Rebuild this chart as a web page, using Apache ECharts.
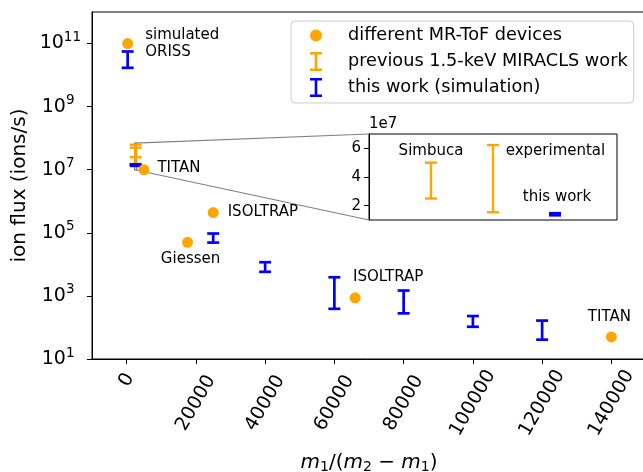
<!DOCTYPE html>
<html>
<head>
<meta charset="utf-8">
<script src="https://cdn.jsdelivr.net/npm/echarts@6/dist/echarts.min.js"></script>
<style>
html, body { margin: 0; padding: 0; background: #fff; }
#main { width: 643px; height: 472px; }
</style>
</head>
<body>
<div id="main"></div>
<script>
// orange dots: different MR-ToF devices
const deviceLabels = ['simulated\nORISS', 'TITAN', 'Giessen', 'ISOLTRAP', 'ISOLTRAP', 'TITAN'];
const deviceX = [300, 5000, 17600, 25000, 66000, 140000];
const deviceFlux = [1e11, 1e7, 5e4, 4.4e5, 870, 50];

// orange bars: previous 1.5-keV MIRACLS work (Simbuca, experimental)
const prevLabels = ['Simbuca', 'experimental'];
const prevX = [2600, 2600];
const prevLow = [2.5e7, 1.54e7];
const prevHigh = [5e7, 6.23e7];

// blue bars: this work (simulation)
const simX = [300, 2600, 25000, 40000, 60000, 80000, 100000, 120000];
const simLow = [1.7e10, 1.33e7, 4.9e4, 5.8e3, 390, 280, 105, 41];
const simHigh = [5.6e10, 1.47e7, 9.5e4, 1.17e4, 3900, 1480, 230, 165];

// inset (zoom around m1/(m2-m1) ~ 2600)
const insetPrevX = [1, 2];
const insetSimX = [3];
const insetSimLabel = ['this work'];
const zoomX = [2300, 2900];
const zoomY = [1e7, 7e7];

const xTicks = [0, 20000, 40000, 60000, 80000, 100000, 120000, 140000];
const yTicks = [1e1, 1e3, 1e5, 1e7, 1e9, 1e11];
const insetTicks = [2e7, 4e7, 6e7];

const seriesNames = ['different MR-ToF devices', 'previous 1.5-keV MIRACLS work', 'this work (simulation)'];

const FONT = 'DejaVu Sans';
const ORANGE = '#ffa500';
const BLUE = '#0000ff';
const INSET = { left: 369, top: 134, width: 248, height: 86 };

// label placement for the annotations (styling only)
const devicePlace = [
  { position: 'right', distance: 12, offset: [0, 0], align: 'left' },
  { position: 'right', distance: 8, offset: [0, -2], align: 'left' },
  { position: 'bottom', distance: 3, offset: [3, 0], align: 'center' },
  { position: 'right', distance: 9, offset: [0, 0], align: 'left' },
  { position: 'top', distance: 7, offset: [33, 0], align: 'center' },
  { position: 'top', distance: 6, offset: [-2, 0], align: 'center' }
];
const prevPlace = [
  { dx: 0, dy: -12, align: 'center' },
  { dx: 12.7, dy: 6.4, align: 'left' }
];
const simPlace = [{ dx: 2, dy: -16.4, align: 'center' }];

var myChart = echarts.init(document.getElementById('main'));

function errorBar(color, lw, names, place) {
  return function (params, api) {
    const x = api.value(0);
    const lo = api.coord([x, api.value(1)]);
    const hi = api.coord([x, api.value(2)]);
    const w = 6;
    const st = { stroke: color, lineWidth: lw };
    const children = [
      { type: 'line', shape: { x1: lo[0], y1: lo[1], x2: hi[0], y2: hi[1] }, style: st },
      { type: 'line', shape: { x1: lo[0] - w, y1: lo[1], x2: lo[0] + w, y2: lo[1] }, style: st },
      { type: 'line', shape: { x1: hi[0] - w, y1: hi[1], x2: hi[0] + w, y2: hi[1] }, style: st }
    ];
    if (names) {
      const p = place[params.dataIndex];
      children.push({
        type: 'text', x: hi[0] + p.dx, y: hi[1] + p.dy,
        style: { text: names[params.dataIndex], fill: '#000', fontSize: 15, fontFamily: FONT,
                 align: p.align, verticalAlign: 'middle' }
      });
    }
    return { type: 'group', children: children };
  };
}

const barIcon = 'path://M0,0H12V2.6H7.3V16.4H12V19H0V16.4H4.7V2.6H0Z';

let deviceData = deviceX.map(function (x, i) {
  const p = devicePlace[i];
  return {
    value: [x, deviceFlux[i]],
    label: {
      show: true, formatter: deviceLabels[i],
      position: p.position, distance: p.distance, offset: p.offset, align: p.align
    }
  };
});

let option = {
  animation: false,
  backgroundColor: '#fff',
  textStyle: { fontFamily: FONT },
  grid: [
    { left: 92, top: 12, width: 554, height: 347, outerBoundsMode: 'none', containLabel: false,
      show: true, borderColor: '#000', borderWidth: 1 },
    { left: INSET.left, top: INSET.top, width: INSET.width, height: INSET.height,
      outerBoundsMode: 'none', containLabel: false,
      show: true, borderColor: '#000', borderWidth: 1, backgroundColor: '#fff' }
  ],
  legend: {
    left: 291, top: 21, orient: 'vertical',
    padding: [5, 6, 6, 19], itemWidth: 12, itemHeight: 19, itemGap: 7,
    borderColor: '#cccccc', borderWidth: 1, borderRadius: 4,
    backgroundColor: 'rgba(255,255,255,0.8)',
    textStyle: { fontSize: 17.7, color: '#000', fontFamily: FONT, padding: [0, 0, 0, 21], lineHeight: 19 },
    data: [
      { name: seriesNames[0], icon: 'circle' },
      { name: seriesNames[1], icon: barIcon },
      { name: seriesNames[2], icon: barIcon }
    ]
  },
  xAxis: [{
    gridIndex: 0, type: 'value', min: -10000, max: 150000,
    splitLine: { show: false },
    axisLine: { onZero: false, lineStyle: { color: '#000' } },
    axisTick: { customValues: xTicks, length: 5, lineStyle: { color: '#000' } },
    axisLabel: {
      customValues: xTicks, rotate: 60, align: 'center', verticalAlign: 'middle', margin: 44,
      formatter: function (v) { return v === 0 ? '{z|0}' : '{n|' + v + '}'; },
      rich: {
        n: { fontSize: 19, fontFamily: FONT, color: '#000' },
        z: { fontSize: 19, fontFamily: FONT, color: '#000', padding: [0, 0, 23, 40] }
      }
    },
    name: '{i|m}{s|1}{n|/(}{i|m}{s|2}{n| − }{i|m}{s|1}{n|)}',
    nameLocation: 'middle', nameGap: 93, nameMoveOverlap: false,
    nameTextStyle: {
      verticalAlign: 'top',
      rich: {
        i: { fontSize: 20, fontStyle: 'italic', fontFamily: FONT, color: '#000' },
        n: { fontSize: 20, fontFamily: FONT, color: '#000' },
        s: { fontSize: 14, fontFamily: FONT, color: '#000', padding: [8, 0, 0, 0] }
      }
    }
  }, {
    gridIndex: 1, type: 'value', min: 0, max: 4,
    axisLine: { show: false, onZero: false }, axisTick: { show: false }, axisLabel: { show: false },
    splitLine: { show: false }
  }],
  yAxis: [{
    gridIndex: 0, type: 'log', logBase: 10, min: 10, max: 1e12,
    splitLine: { show: false },
    axisLine: { onZero: false, lineStyle: { color: '#000' } },
    axisTick: { customValues: yTicks, length: 5, lineStyle: { color: '#000' } },
    axisLabel: {
      customValues: yTicks, margin: 11,
      formatter: function (v) {
        const e = Math.round(Math.log10(v));
        return '{b|10}{' + (e > 9 ? 's' : 't') + '|' + e + '}';
      },
      rich: {
        b: { fontSize: 19, fontFamily: FONT, color: '#000' },
        s: { fontSize: 13.5, fontFamily: FONT, color: '#000', padding: [0, 0, 12, 0] },
        t: { fontSize: 13.5, fontFamily: FONT, color: '#000', padding: [0, 6.5, 12, 0] }
      }
    },
    name: 'ion flux (ions/s)', nameLocation: 'middle', nameGap: 62, nameMoveOverlap: false,
    nameTextStyle: { fontSize: 20, color: '#000', fontFamily: FONT }
  }, {
    gridIndex: 1, type: 'value', min: zoomY[0], max: zoomY[1],
    splitLine: { show: false },
    axisLine: { onZero: false, lineStyle: { color: '#000' } },
    axisTick: { customValues: insetTicks, length: 5, lineStyle: { color: '#000' } },
    axisLabel: {
      customValues: insetTicks, margin: 8, fontSize: 15, color: '#000', fontFamily: FONT,
      formatter: function (v) { return String(v / 1e7); }
    },
    name: '1e7', nameLocation: 'end', nameGap: 2,
    nameTextStyle: { fontSize: 15, color: '#000', fontFamily: FONT, align: 'left' }
  }],
  series: [
    {
      // connectors from the zoom window to the inset
      type: 'custom', xAxisIndex: 0, yAxisIndex: 0, silent: true, z: 1,
      data: [[zoomX[0], zoomY[0], zoomX[1], zoomY[1]]],
      encode: { x: [0, 2], y: [1, 3] },
      renderItem: function (params, api) {
        const bl = api.coord([api.value(0), api.value(1)]);
        const tr = api.coord([api.value(2), api.value(3)]);
        const st = { stroke: '#808080', lineWidth: 1.2, fill: null };
        return { type: 'group', children: [
          { type: 'rect', shape: { x: bl[0], y: tr[1], width: tr[0] - bl[0], height: bl[1] - tr[1] }, style: st },
          { type: 'line', shape: { x1: bl[0], y1: tr[1], x2: INSET.left, y2: INSET.top }, style: st },
          { type: 'line', shape: { x1: bl[0], y1: bl[1], x2: INSET.left, y2: INSET.top + INSET.height }, style: st }
        ] };
      }
    },
    {
      name: seriesNames[1], type: 'custom', xAxisIndex: 0, yAxisIndex: 0, z: 3,
      itemStyle: { color: ORANGE },
      data: prevX.map(function (x, i) { return [x, prevLow[i], prevHigh[i]]; }),
      encode: { x: 0, y: [1, 2] },
      renderItem: errorBar(ORANGE, 2.4)
    },
    {
      name: seriesNames[2], type: 'custom', xAxisIndex: 0, yAxisIndex: 0, z: 4,
      itemStyle: { color: BLUE },
      data: simX.map(function (x, i) { return [x, simLow[i], simHigh[i]]; }),
      encode: { x: 0, y: [1, 2] },
      renderItem: errorBar(BLUE, 2.7)
    },
    {
      name: seriesNames[0], type: 'scatter', xAxisIndex: 0, yAxisIndex: 0, z: 5,
      symbolSize: 11, itemStyle: { color: ORANGE, opacity: 1 },
      label: { color: '#000', fontSize: 15, fontFamily: FONT, lineHeight: 16.5 },
      data: deviceData
    },
    {
      name: seriesNames[1], type: 'custom', xAxisIndex: 1, yAxisIndex: 1, z: 3,
      itemStyle: { color: ORANGE },
      data: insetPrevX.map(function (x, i) { return [x, prevLow[i], prevHigh[i]]; }),
      encode: { x: 0, y: [1, 2] },
      renderItem: errorBar(ORANGE, 2.4, prevLabels, prevPlace)
    },
    {
      name: seriesNames[2], type: 'custom', xAxisIndex: 1, yAxisIndex: 1, z: 4,
      itemStyle: { color: BLUE },
      data: insetSimX.map(function (x, i) { return [x, simLow[1 + i], simHigh[1 + i]]; }),
      encode: { x: 0, y: [1, 2] },
      renderItem: errorBar(BLUE, 2.7, insetSimLabel, simPlace)
    }
  ]
};

myChart.setOption(option);
</script>
</body>
</html>
